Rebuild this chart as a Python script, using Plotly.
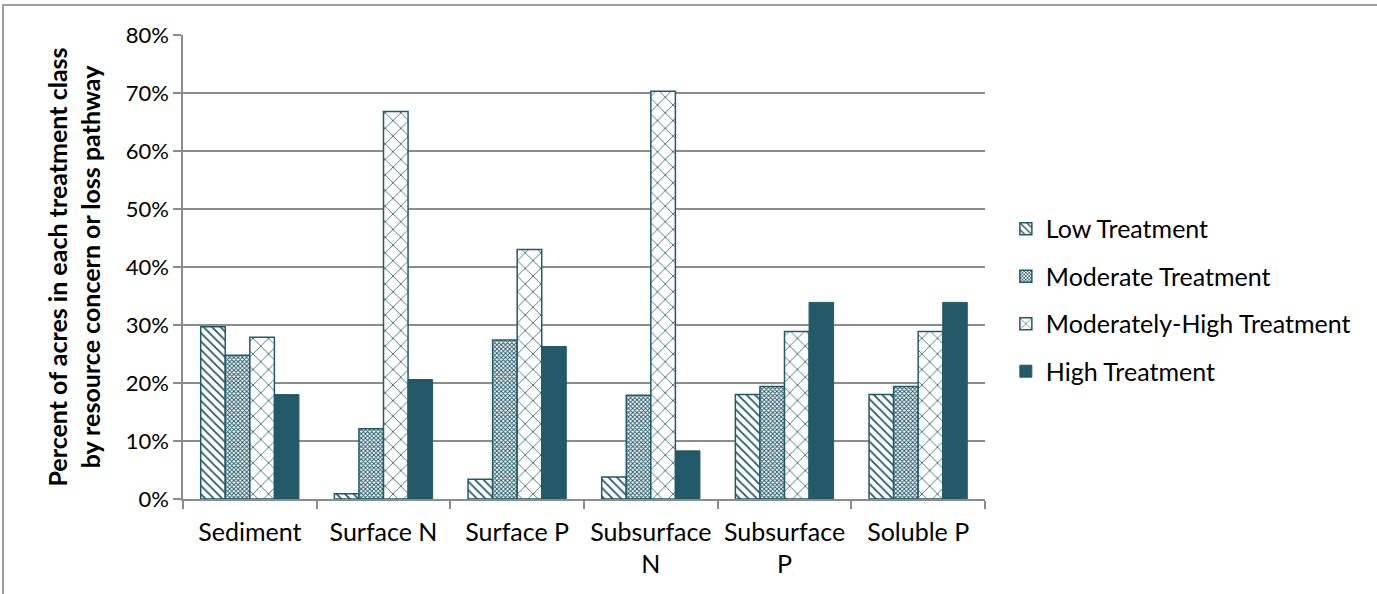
import plotly.graph_objects as go

# Resource concerns / loss pathways (x categories)
categories = ["Sediment", "Surface N", "Surface P", "Subsurface<br>N", "Subsurface<br>P", "Soluble P"]

# Percent of acres in each treatment class
low_treatment = [29.7, 0.9, 3.4, 3.8, 18.0, 18.0]
moderate_treatment = [24.8, 12.1, 27.4, 17.9, 19.4, 19.4]
modhigh_treatment = [27.9, 66.8, 43.0, 70.3, 28.9, 28.9]
high_treatment = [18.0, 20.6, 26.3, 8.3, 33.9, 33.9]

series_names = ["Low Treatment", "Moderate Treatment", "Moderately-High Treatment", "High Treatment"]
y_ticks = [0, 10, 20, 30, 40, 50, 60, 70, 80]
y_tick_labels = ["0%", "10%", "20%", "30%", "40%", "50%", "60%", "70%", "80%"]

TEAL = "#235a6a"
FONT = "Lato, 'Open Sans', sans-serif"

styles = [
    dict(shape="\\", size=6, solidity=0.3),
    dict(shape="x", size=3, solidity=0.55),
    dict(shape="x", size=11, solidity=0.14),
    None,
]

fig = go.Figure()
for name, vals, pat in zip(series_names,
                           [low_treatment, moderate_treatment, modhigh_treatment, high_treatment],
                           styles):
    if pat is None:
        marker = dict(color=TEAL, line=dict(color=TEAL, width=1))
    else:
        marker = dict(color="white",
                      line=dict(color=TEAL, width=1.5),
                      pattern=dict(fgcolor=TEAL, bgcolor="white", fillmode="replace", **pat))
    fig.add_trace(go.Bar(x=categories, y=vals, name=name, legendgroup=name, marker=marker))

# Outer frame around the chart
fig.add_shape(type="rect", xref="paper", yref="paper",
              x0=-0.2244, x1=1.5, y0=-0.3, y1=1.0647,
              line=dict(color="#7f7f7f", width=1.5), fillcolor="rgba(0,0,0,0)", layer="below")

fig.update_layout(
    width=1377, height=594,
    margin=dict(l=183, r=392, t=35, b=95),
    paper_bgcolor="white", plot_bgcolor="white",
    barmode="group", bargap=0.265, bargroupgap=0,
    font=dict(family=FONT, size=22, color="black"),
    legend=dict(x=1.026, xanchor="left", y=0.429, yanchor="middle",
                font=dict(size=25, family=FONT, color="black"),
                traceorder="grouped", tracegroupgap=12, itemwidth=30,
                bgcolor="rgba(0,0,0,0)"),
    showlegend=True,
)

fig.update_yaxes(
    range=[0, 80], tickvals=y_ticks, ticktext=y_tick_labels,
    showgrid=True, gridcolor="#8c8c8c", gridwidth=1.5,
    showline=True, linecolor="#8c8c8c", linewidth=1.5,
    ticks="outside", ticklen=8, tickcolor="#8c8c8c", tickwidth=1.5,
    tickfont=dict(size=22, family=FONT),
    title=dict(text="<b>Percent of acres in each treatment class<br>by resource concern or loss pathway</b>",
               font=dict(size=25, family=FONT), standoff=18),
    zeroline=False,
)

fig.update_xaxes(
    showline=True, linecolor="#8c8c8c", linewidth=1.5,
    ticks="outside", ticklen=8, tickcolor="#8c8c8c", tickwidth=1.5,
    tickson="boundaries", mirror=False, ticklabelstandoff=10,
    tickfont=dict(size=25, family=FONT),
)

fig.write_html("out.html")
